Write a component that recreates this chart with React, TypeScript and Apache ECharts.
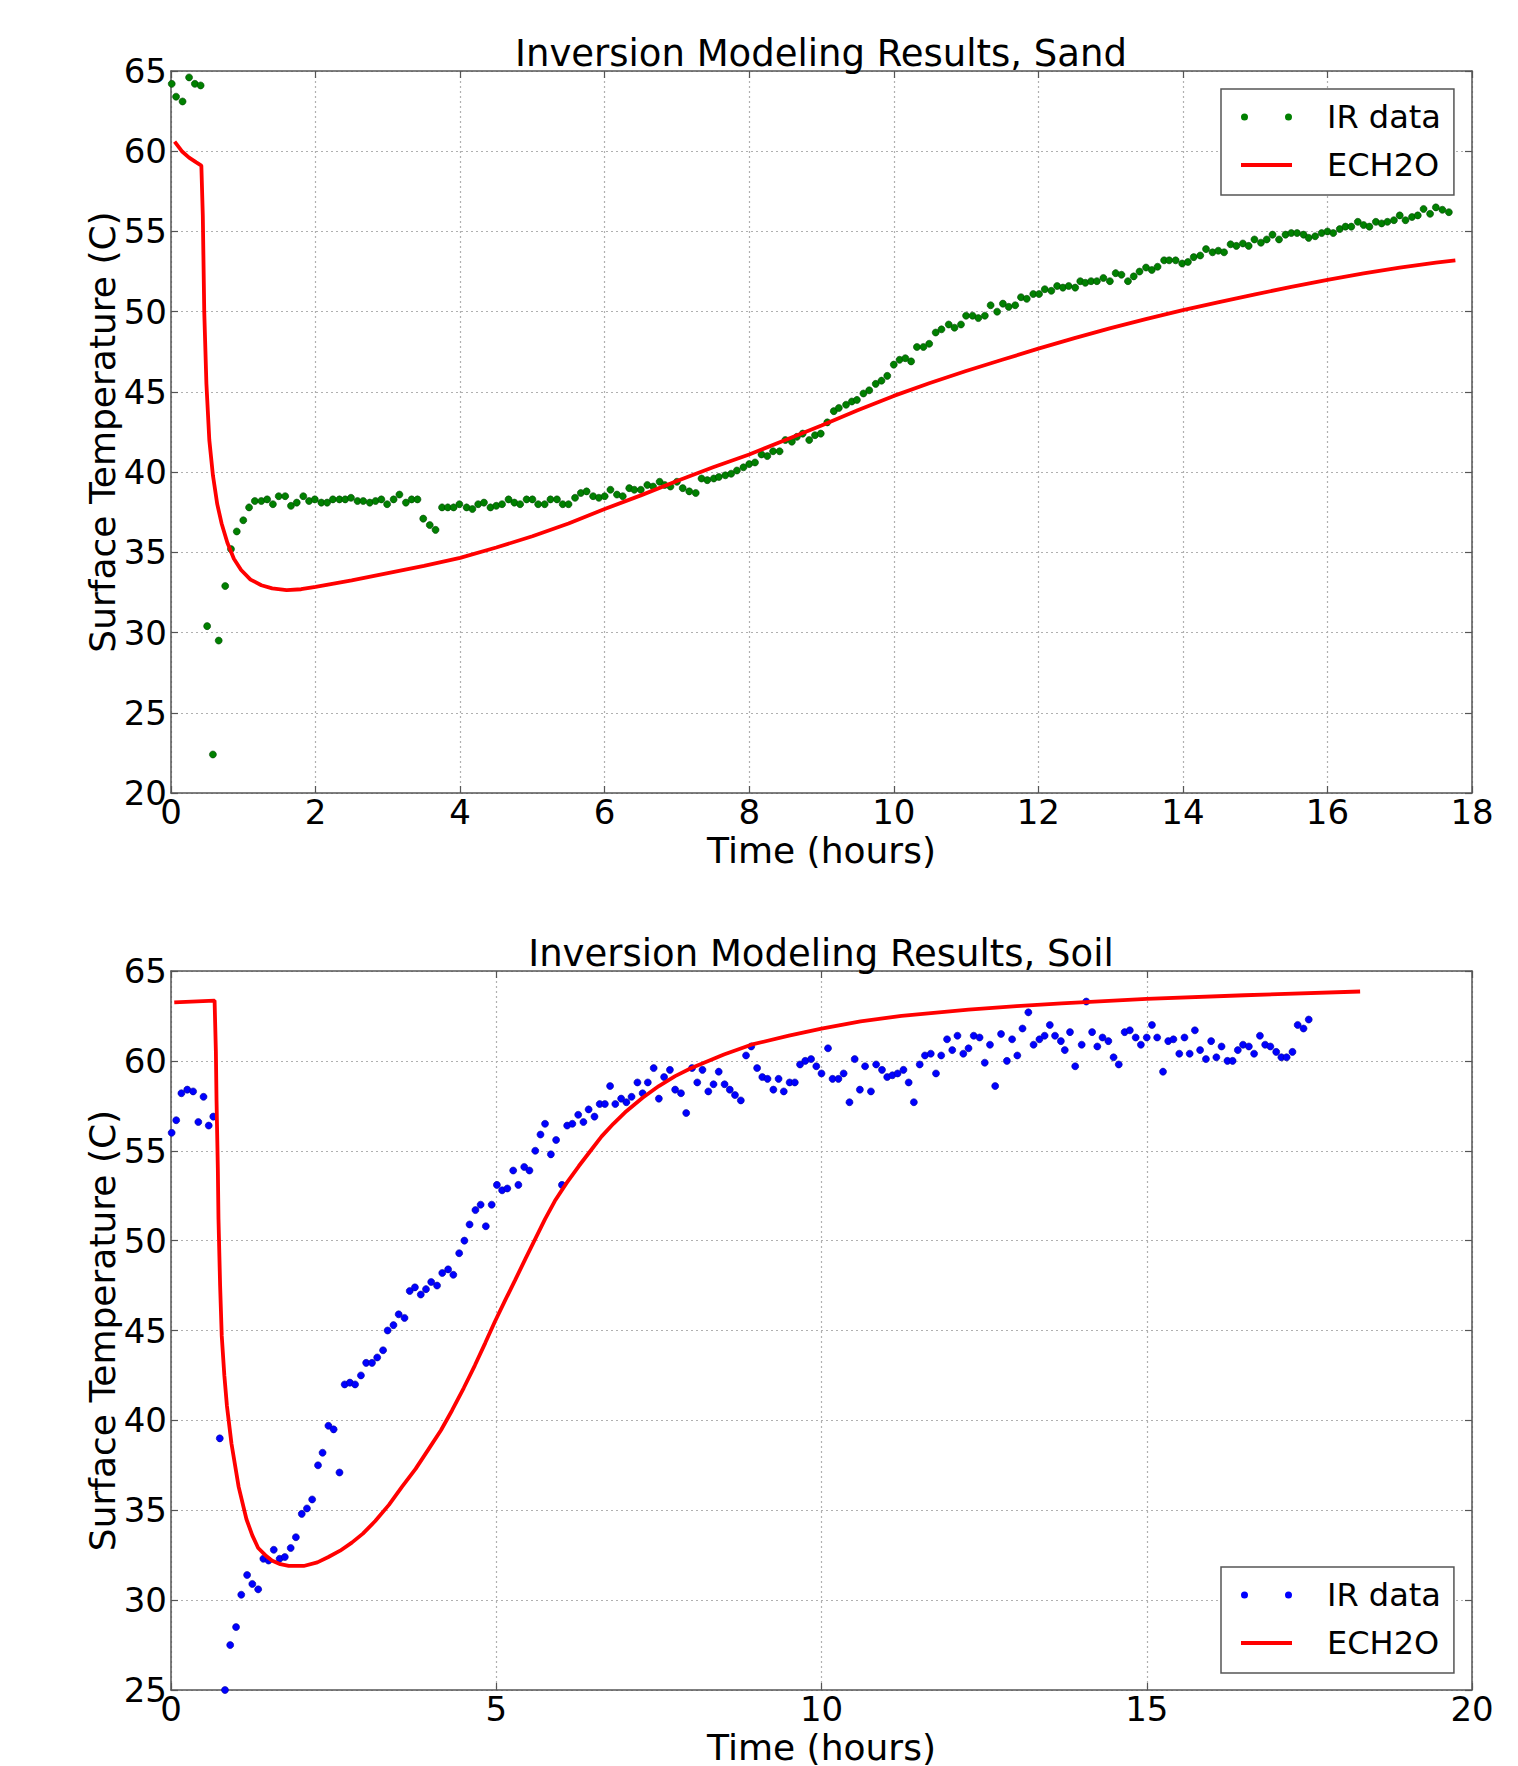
import React, { useEffect, useRef } from "react";
import * as echarts from "echarts";

const FONT = "DejaVu Sans";

// Titles / labels
const sandTitle = "Inversion Modeling Results, Sand";
const soilTitle = "Inversion Modeling Results, Soil";
const xName = "Time (hours)";
const yName = "Surface Temperature (C)";
const irName = "IR data";
const modelName = "ECH2O";

// Sand: IR data [hours, °C]
const sandIR: number[][] = [
  [0.01, 64.2], [0.07, 63.4], [0.16, 63.1], [0.25, 64.6], [0.33, 64.2], [0.41, 64.1],
  [0.5, 30.4], [0.58, 22.4], [0.66, 29.5], [0.75, 32.9], [0.83, 35.2], [0.91, 36.3],
  [1.0, 37.0], [1.08, 37.8], [1.16, 38.2], [1.25, 38.2], [1.33, 38.3], [1.41, 38.0],
  [1.49, 38.5], [1.58, 38.5], [1.66, 37.9], [1.74, 38.1], [1.83, 38.5], [1.91, 38.2],
  [1.99, 38.3], [2.08, 38.1], [2.16, 38.1], [2.24, 38.3], [2.33, 38.3], [2.41, 38.3],
  [2.49, 38.4], [2.58, 38.2], [2.66, 38.2], [2.75, 38.1], [2.83, 38.2], [2.91, 38.3],
  [2.99, 38.0], [3.08, 38.3], [3.16, 38.6], [3.25, 38.1], [3.33, 38.3], [3.41, 38.3],
  [3.49, 37.1], [3.58, 36.7], [3.66, 36.4], [3.75, 37.8], [3.83, 37.8], [3.91, 37.8],
  [3.99, 38.0], [4.09, 37.8], [4.17, 37.7], [4.25, 38.0], [4.33, 38.1], [4.42, 37.8],
  [4.5, 37.9], [4.58, 38.0], [4.67, 38.3], [4.75, 38.1], [4.83, 38.0], [4.92, 38.3],
  [5.0, 38.3], [5.08, 38.0], [5.17, 38.0], [5.25, 38.3], [5.34, 38.3], [5.42, 38.0],
  [5.5, 38.0], [5.59, 38.4], [5.67, 38.7], [5.75, 38.8], [5.84, 38.5], [5.92, 38.4],
  [6.0, 38.5], [6.08, 38.9], [6.17, 38.6], [6.25, 38.5], [6.34, 39.0], [6.41, 38.9],
  [6.5, 38.9], [6.59, 39.2], [6.67, 39.1], [6.76, 39.4], [6.83, 39.2], [6.91, 39.1],
  [7.0, 39.4], [7.08, 39.0], [7.17, 38.8], [7.26, 38.7], [7.34, 39.6], [7.42, 39.5],
  [7.51, 39.6], [7.58, 39.7], [7.67, 39.8], [7.75, 39.9], [7.83, 40.1], [7.92, 40.3],
  [8.0, 40.5], [8.08, 40.6], [8.17, 41.1], [8.25, 41.0], [8.33, 41.3], [8.42, 41.3],
  [8.5, 42.0], [8.59, 41.9], [8.66, 42.2], [8.74, 42.4], [8.83, 42.0], [8.91, 42.3],
  [8.99, 42.4], [9.08, 43.1], [9.17, 43.8], [9.24, 44.0], [9.34, 44.2], [9.42, 44.4],
  [9.49, 44.5], [9.58, 44.9], [9.66, 45.1], [9.75, 45.5], [9.83, 45.7], [9.91, 46.0],
  [10.0, 46.7], [10.08, 47.0], [10.16, 47.1], [10.24, 46.9], [10.32, 47.8], [10.41, 47.8],
  [10.49, 48.0], [10.58, 48.7], [10.66, 48.9], [10.76, 49.2], [10.84, 49.0], [10.93, 49.2],
  [11.0, 49.75], [11.09, 49.75], [11.17, 49.6], [11.26, 49.75], [11.34, 50.4], [11.43, 50.0],
  [11.51, 50.5], [11.59, 50.3], [11.68, 50.4], [11.76, 50.9], [11.84, 50.8], [11.93, 51.1],
  [12.01, 51.1], [12.09, 51.4], [12.18, 51.3], [12.26, 51.6], [12.34, 51.5], [12.42, 51.6],
  [12.51, 51.5], [12.58, 51.9], [12.65, 51.8], [12.73, 51.9], [12.81, 51.9], [12.9, 52.1],
  [12.99, 51.9], [13.07, 52.4], [13.15, 52.3], [13.24, 51.9], [13.32, 52.2], [13.4, 52.5],
  [13.49, 52.75], [13.57, 52.6], [13.65, 52.8], [13.74, 53.2], [13.81, 53.2], [13.9, 53.2],
  [13.99, 53.0], [14.07, 53.1], [14.15, 53.4], [14.24, 53.5], [14.32, 53.9], [14.41, 53.7],
  [14.49, 53.8], [14.57, 53.7], [14.66, 54.2], [14.74, 54.1], [14.83, 54.25], [14.91, 54.1],
  [14.99, 54.5], [15.08, 54.3], [15.16, 54.5], [15.24, 54.8], [15.33, 54.5], [15.42, 54.8],
  [15.5, 54.9], [15.58, 54.9], [15.67, 54.8], [15.74, 54.6], [15.83, 54.7], [15.92, 54.9],
  [16.0, 55.0], [16.08, 54.9], [16.17, 55.15], [16.25, 55.3], [16.33, 55.3], [16.42, 55.6],
  [16.5, 55.4], [16.58, 55.3], [16.67, 55.6], [16.75, 55.5], [16.83, 55.6], [16.92, 55.7],
  [17.0, 56.0], [17.08, 55.7], [17.17, 55.9], [17.25, 56.0], [17.33, 56.4], [17.42, 56.1],
  [17.5, 56.5], [17.59, 56.35], [17.68, 56.2],
];

// Sand: ECH2O model curve [hours, °C]
const sandModel: number[][] = [
  [0.05, 60.6], [0.15, 60.0], [0.25, 59.6], [0.35, 59.3], [0.42, 59.1], [0.44, 56.0],
  [0.46, 50.0], [0.49, 45.5], [0.53, 42.0], [0.58, 39.8], [0.64, 38.0], [0.7, 36.8],
  [0.78, 35.6], [0.87, 34.6], [0.97, 33.9], [1.1, 33.3], [1.25, 32.95], [1.4, 32.75],
  [1.6, 32.65], [1.8, 32.7], [2.0, 32.85], [2.5, 33.25], [3.0, 33.7], [3.5, 34.15],
  [4.0, 34.65], [4.5, 35.3], [5.0, 36.0], [5.5, 36.8], [6.0, 37.7], [6.5, 38.55],
  [7.0, 39.45], [7.5, 40.3], [8.0, 41.1], [8.5, 42.0], [9.0, 42.9], [9.5, 43.85],
  [10.0, 44.75], [10.5, 45.55], [11.0, 46.3], [11.5, 47.0], [12.0, 47.7], [12.5, 48.35],
  [13.0, 48.97], [13.5, 49.55], [14.0, 50.1], [14.5, 50.6], [15.0, 51.08], [15.5, 51.55],
  [16.0, 51.98], [16.5, 52.38], [17.0, 52.75], [17.5, 53.05], [17.77, 53.2],
];

// Soil: IR data [hours, °C]
const soilIR: number[][] = [
  [0.01, 56.0], [0.08, 56.7], [0.16, 58.2], [0.25, 58.4], [0.34, 58.3], [0.42, 56.6],
  [0.5, 58.0], [0.58, 56.4], [0.65, 56.9], [0.75, 39.0], [0.83, 25.0], [0.91, 27.5],
  [1.0, 28.5], [1.08, 30.3], [1.17, 31.4], [1.25, 30.9], [1.34, 30.6], [1.42, 32.3],
  [1.5, 32.2], [1.58, 32.8], [1.67, 32.3], [1.75, 32.4], [1.84, 32.9], [1.92, 33.5],
  [2.01, 34.8], [2.09, 35.1], [2.17, 35.6], [2.26, 37.5], [2.33, 38.2], [2.42, 39.7],
  [2.5, 39.5], [2.59, 37.1], [2.67, 42.0], [2.75, 42.1], [2.83, 42.0], [2.92, 42.5],
  [3.0, 43.2], [3.09, 43.2], [3.17, 43.5], [3.26, 43.9], [3.33, 45.0], [3.42, 45.3],
  [3.5, 45.9], [3.59, 45.7], [3.67, 47.2], [3.75, 47.4], [3.84, 47.0], [3.92, 47.3],
  [4.0, 47.7], [4.09, 47.5], [4.17, 48.2], [4.26, 48.4], [4.34, 48.1], [4.43, 49.3],
  [4.51, 50.0], [4.59, 50.9], [4.68, 51.7], [4.76, 52.0], [4.84, 50.8], [4.93, 52.0],
  [5.01, 53.1], [5.09, 52.8], [5.17, 52.9], [5.26, 53.9], [5.34, 53.1], [5.43, 54.1],
  [5.51, 53.9], [5.6, 55.0], [5.68, 55.9], [5.75, 56.5], [5.84, 54.8], [5.92, 55.6],
  [6.01, 53.1], [6.09, 56.4], [6.17, 56.5], [6.26, 57.0], [6.34, 56.6], [6.42, 57.3],
  [6.51, 56.9], [6.59, 57.6], [6.67, 57.6], [6.75, 58.6], [6.83, 57.6], [6.92, 57.9],
  [7.0, 57.7], [7.08, 58.0], [7.17, 58.8], [7.25, 58.2], [7.33, 58.8], [7.42, 59.6],
  [7.5, 57.9], [7.58, 59.1], [7.67, 59.5], [7.75, 58.4], [7.84, 58.2], [7.92, 57.1],
  [8.01, 59.6], [8.09, 58.8], [8.17, 59.5], [8.26, 58.3], [8.34, 58.7], [8.42, 59.4],
  [8.51, 58.7], [8.59, 58.4], [8.67, 58.1], [8.76, 57.8], [8.84, 60.3], [8.92, 60.8],
  [9.01, 59.6], [9.09, 59.1], [9.17, 59.0], [9.26, 58.4], [9.34, 59.0], [9.42, 58.3],
  [9.51, 58.8], [9.59, 58.8], [9.67, 59.8], [9.75, 60.0], [9.84, 60.1], [9.92, 59.7],
  [10.0, 59.3], [10.1, 60.7], [10.17, 59.0], [10.26, 59.0], [10.34, 59.3], [10.43, 57.7],
  [10.51, 60.1], [10.59, 58.4], [10.67, 59.7], [10.76, 58.3], [10.84, 59.8], [10.93, 59.5],
  [11.01, 59.1], [11.09, 59.2], [11.17, 59.3], [11.26, 59.5], [11.34, 58.8], [11.42, 57.7],
  [11.51, 59.8], [11.59, 60.3], [11.68, 60.4], [11.76, 59.3], [11.84, 60.3], [11.93, 61.2],
  [12.01, 60.6], [12.09, 61.4], [12.18, 60.4], [12.26, 60.7], [12.34, 61.4], [12.43, 61.3],
  [12.51, 59.9], [12.59, 60.9], [12.67, 58.6], [12.76, 61.5], [12.85, 60.0], [12.93, 61.2],
  [13.01, 60.3], [13.09, 61.8], [13.18, 62.7], [13.26, 60.9], [13.35, 61.2], [13.43, 61.4],
  [13.51, 62.0], [13.59, 61.4], [13.68, 61.1], [13.74, 60.6], [13.82, 61.6], [13.9, 59.7],
  [14.0, 60.9], [14.07, 63.3], [14.16, 61.6], [14.24, 60.8], [14.32, 61.3], [14.41, 61.1],
  [14.49, 60.2], [14.57, 59.8], [14.66, 61.6], [14.74, 61.7], [14.83, 61.3], [14.91, 60.9],
  [15.0, 61.3], [15.08, 62.0], [15.16, 61.3], [15.25, 59.4], [15.33, 61.1], [15.41, 61.2],
  [15.5, 60.4], [15.58, 61.3], [15.66, 60.4], [15.74, 61.7], [15.82, 60.6], [15.91, 60.1],
  [15.99, 61.1], [16.07, 60.2], [16.15, 60.8], [16.24, 60.0], [16.32, 60.0], [16.4, 60.6],
  [16.48, 60.9], [16.57, 60.8], [16.65, 60.4], [16.74, 61.4], [16.82, 60.9], [16.9, 60.8],
  [16.99, 60.5], [17.07, 60.2], [17.15, 60.2], [17.24, 60.5], [17.32, 62.0], [17.41, 61.8],
  [17.49, 62.3],
];

// Soil: ECH2O model curve [hours, °C]
const soilModel: number[][] = [
  [0.05, 63.25], [0.67, 63.35], [0.69, 60.5], [0.7, 57.8], [0.72, 54.0], [0.73, 51.2],
  [0.755, 47.5], [0.78, 44.7], [0.82, 42.5], [0.86, 40.8], [0.93, 38.7], [1.04, 36.3],
  [1.16, 34.5], [1.25, 33.6], [1.34, 32.9], [1.45, 32.5], [1.55, 32.2], [1.68, 32.0],
  [1.81, 31.9], [2.04, 31.9], [2.25, 32.1], [2.42, 32.4], [2.6, 32.75], [2.78, 33.2],
  [2.95, 33.7], [3.14, 34.4], [3.35, 35.3], [3.55, 36.3], [3.76, 37.3], [3.96, 38.4],
  [4.15, 39.45], [4.32, 40.55], [4.5, 41.8], [4.67, 43.05], [4.83, 44.3], [4.98, 45.5],
  [5.14, 46.7], [5.29, 47.8], [5.45, 49.0], [5.6, 50.1], [5.75, 51.2], [5.9, 52.2],
  [6.08, 53.2], [6.27, 54.15], [6.45, 55.0], [6.62, 55.8], [6.8, 56.5], [7.0, 57.2],
  [7.25, 57.95], [7.5, 58.6], [7.75, 59.15], [8.0, 59.6], [8.5, 60.35], [8.92, 60.9],
  [9.5, 61.4], [10.0, 61.8], [10.6, 62.2], [11.23, 62.5], [12.26, 62.85], [13.0, 63.05],
  [13.69, 63.2], [15.0, 63.45], [16.5, 63.65], [18.28, 63.86],
];

// Axis ranges / ticks
const sandX = { min: 0, max: 18, interval: 2 };
const sandY = { min: 20, max: 65, interval: 5 };
const soilX = { min: 0, max: 20, interval: 5 };
const soilY = { min: 25, max: 65, interval: 5 };

const AXIS_COLOR = "#555555";
const GRID_COLOR = "#b0b0b0";
const DOTS_ICON =
  "path://M0,3.5a3.5,3.5 0 1,0 7,0a3.5,3.5 0 1,0 -7,0zM44,3.5a3.5,3.5 0 1,0 7,0a3.5,3.5 0 1,0 -7,0z";
const LINE_ICON = "path://M0,0L0,0M0,7L0,7M0,1.6L51,1.6L51,5.4L0,5.4Z";

function mainX(gridIndex: number, r: any) {
  return {
    type: "value",
    gridIndex,
    position: "bottom",
    ...r,
    name: xName,
    nameLocation: "middle",
    nameGap: 39,
    nameMoveOverlap: false,
    nameTextStyle: { fontSize: 36, fontFamily: FONT, color: "#000" },
    axisLine: { show: true, onZero: false, lineStyle: { color: AXIS_COLOR, width: 1.5 } },
    axisTick: { show: true, inside: true, length: 7, lineStyle: { color: AXIS_COLOR, width: 1.2 } },
    axisLabel: {
      show: true,
      margin: 2,
      fontSize: 34,
      fontFamily: FONT,
      color: "#000",
      showMinLabel: true,
      showMaxLabel: true,
    },
    splitLine: { show: true, lineStyle: { color: GRID_COLOR, type: [2, 3], width: 1.2 } },
  };
}
function topX(gridIndex: number, r: any) {
  return {
    type: "value",
    gridIndex,
    position: "top",
    ...r,
    axisLine: { show: true, onZero: false, lineStyle: { color: AXIS_COLOR, width: 1.5 } },
    axisTick: { show: true, inside: true, length: 7, lineStyle: { color: AXIS_COLOR, width: 1.2 } },
    axisLabel: { show: false },
    splitLine: { show: false },
  };
}
function mainY(gridIndex: number, r: any) {
  return {
    type: "value",
    gridIndex,
    position: "left",
    ...r,
    name: yName,
    nameLocation: "middle",
    nameGap: 51,
    nameMoveOverlap: false,
    nameRotate: 90,
    nameTextStyle: { fontSize: 36, fontFamily: FONT, color: "#000" },
    axisLine: { show: true, onZero: false, lineStyle: { color: AXIS_COLOR, width: 1.5 } },
    axisTick: { show: true, inside: true, length: 7, lineStyle: { color: AXIS_COLOR, width: 1.2 } },
    axisLabel: {
      show: true,
      margin: 4,
      fontSize: 34,
      fontFamily: FONT,
      color: "#000",
      showMinLabel: true,
      showMaxLabel: true,
    },
    splitLine: { show: true, lineStyle: { color: GRID_COLOR, type: [2, 3], width: 1.2 } },
  };
}
function rightY(gridIndex: number, r: any) {
  return {
    type: "value",
    gridIndex,
    position: "right",
    ...r,
    axisLine: { show: true, onZero: false, lineStyle: { color: AXIS_COLOR, width: 1.5 } },
    axisTick: { show: true, inside: true, length: 7, lineStyle: { color: AXIS_COLOR, width: 1.2 } },
    axisLabel: { show: false },
    splitLine: { show: false },
  };
}
function legendAt(top: number, dotColor: string) {
  return {
    orient: "vertical",
    left: 1221,
    top,
    padding: [12, 13, 14, 20],
    itemGap: 16,
    itemWidth: 51,
    itemHeight: 7,
    backgroundColor: "#fff",
    borderColor: AXIS_COLOR,
    borderWidth: 1.5,
    selectedMode: false,
    textStyle: { fontSize: 32, fontFamily: FONT, color: "#000", padding: [0, 0, 0, 30] },
    data: [
      { name: irName, icon: DOTS_ICON, itemStyle: { color: dotColor, borderWidth: 0, opacity: 1 } },
      { name: modelName, icon: LINE_ICON, itemStyle: { color: "#ff0000", borderWidth: 0 } },
    ],
  };
}

const option: any = {
  animation: false,
  backgroundColor: "#ffffff",
  textStyle: { fontFamily: FONT },
  title: [
    {
      text: sandTitle,
      left: 821,
      top: 35,
      textAlign: "center",
      padding: 0,
      textStyle: { fontSize: 37, fontWeight: "normal", fontFamily: FONT, color: "#000" },
    },
    {
      text: soilTitle,
      left: 821,
      top: 935,
      textAlign: "center",
      padding: 0,
      textStyle: { fontSize: 37, fontWeight: "normal", fontFamily: FONT, color: "#000" },
    },
  ],
  grid: [
    { left: 171, top: 71, width: 1301, height: 722 },
    { left: 171, top: 971, width: 1301, height: 721 },
  ],
  xAxis: [mainX(0, sandX), topX(0, sandX), mainX(1, soilX), topX(1, soilX)],
  yAxis: [mainY(0, sandY), rightY(0, sandY), mainY(1, soilY), rightY(1, soilY)],
  legend: [legendAt(89, "#008000"), legendAt(1567, "#0000ff")],
  series: [
    {
      type: "scatter",
      name: irName,
      xAxisIndex: 0,
      yAxisIndex: 0,
      data: sandIR,
      symbolSize: 7,
      itemStyle: { color: "#008000", opacity: 1, borderColor: "#004400", borderWidth: 0.6 },
    },
    {
      type: "line",
      name: modelName,
      xAxisIndex: 0,
      yAxisIndex: 0,
      data: sandModel,
      symbol: "none",
      showSymbol: false,
      lineStyle: { color: "#ff0000", width: 3.8 },
      itemStyle: { color: "#ff0000" },
    },
    {
      type: "scatter",
      name: irName,
      xAxisIndex: 2,
      yAxisIndex: 2,
      data: soilIR,
      symbolSize: 7,
      itemStyle: { color: "#0000ff", opacity: 1, borderColor: "#000099", borderWidth: 0.6 },
    },
    {
      type: "line",
      name: modelName,
      xAxisIndex: 2,
      yAxisIndex: 2,
      data: soilModel,
      symbol: "none",
      showSymbol: false,
      lineStyle: { color: "#ff0000", width: 3.8 },
      itemStyle: { color: "#ff0000" },
    },
  ],
};

export default function App() {
  const ref = useRef<HTMLDivElement>(null);
  useEffect(() => {
    if (!ref.current) return;
    const chart = echarts.init(ref.current, null, { renderer: "svg" });
    chart.setOption(option);
    return () => chart.dispose();
  }, []);
  return (
    <div
      ref={ref}
      style={{ position: "fixed", left: 0, top: 0, width: 1518, height: 1766, background: "#fff" }}
    />
  );
}
